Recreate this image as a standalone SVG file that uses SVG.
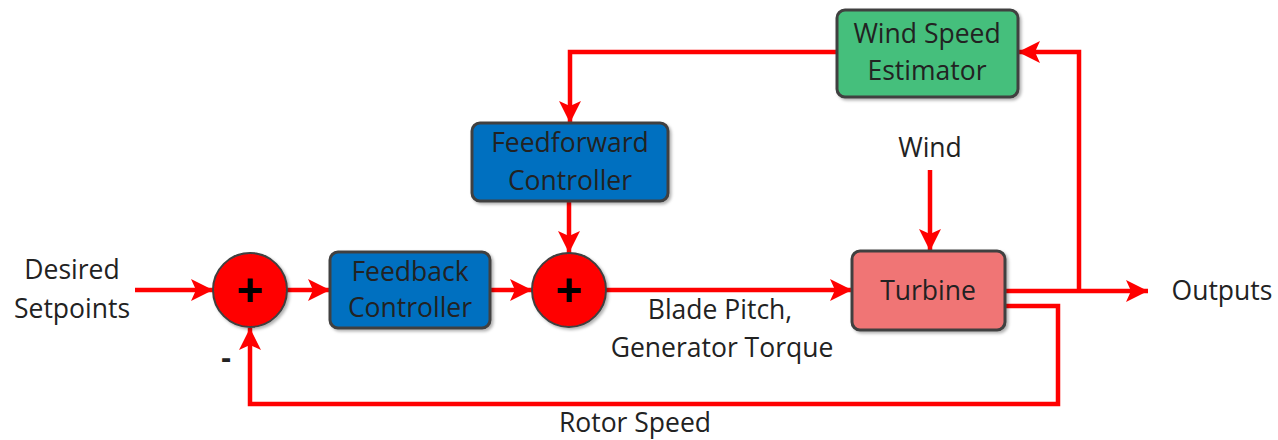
<svg xmlns="http://www.w3.org/2000/svg" width="1278" height="440" viewBox="0 0 1278 440">
<style>
.lbl{font-family:"Open Sans","Liberation Sans",sans-serif;font-size:26.5px;fill:#222;text-anchor:middle}
.box{stroke:#404040;stroke-width:3}
.sum{fill:#ff0000;stroke:#404040;stroke-width:2}
.plus{font-family:"Liberation Sans",sans-serif;font-size:46px;font-weight:bold;fill:#000;text-anchor:middle}
.wire{fill:none;stroke:#ff0000;stroke-width:4.5;stroke-linejoin:miter}
</style>
<defs>
<marker id="ah" markerUnits="userSpaceOnUse" markerWidth="24" markerHeight="24" refX="22" refY="11" orient="auto">
<path d="M0,0 L22,11 L0,22 L5,11 z" fill="#ff0000"/>
</marker>
<filter id="sh" x="-10%" y="-10%" width="130%" height="130%">
<feDropShadow dx="2" dy="2" stdDeviation="1.5" flood-color="#000" flood-opacity="0.3"/>
</filter>
</defs>
<g id="connectors">
<path class="wire" d="M135,290 H213" marker-end="url(#ah)"/>
<path class="wire" d="M287,290 H330" marker-end="url(#ah)"/>
<path class="wire" d="M490,290 H532" marker-end="url(#ah)"/>
<path class="wire" d="M606,290 H852" marker-end="url(#ah)"/>
<path class="wire" d="M569,201 V253" marker-end="url(#ah)"/>
<path class="wire" d="M837,52 H570 V123" marker-end="url(#ah)"/>
<path class="wire" d="M930,170 V251" marker-end="url(#ah)"/>
<path class="wire" d="M1005,291 H1148" marker-end="url(#ah)"/>
<path class="wire" d="M1079,291 V52 H1018" marker-end="url(#ah)"/>
<path class="wire" d="M1005,306 H1058 V404 H250 V328" marker-end="url(#ah)"/>
</g>
<g id="sum1">
<circle class="sum" cx="250" cy="290" r="37" filter="url(#sh)"/>
<text class="plus" x="250" y="306">+</text>
</g>
<g id="feedback">
<rect class="box" x="330" y="252" width="160" height="76" rx="8" fill="#0070c0" filter="url(#sh)"/>
<text class="lbl" x="410" y="281">Feedback</text>
<text class="lbl" x="410" y="317">Controller</text>
</g>
<g id="sum2">
<circle class="sum" cx="569" cy="290" r="37" filter="url(#sh)"/>
<text class="plus" x="569" y="306">+</text>
</g>
<g id="feedforward">
<rect class="box" x="472" y="123" width="196" height="78" rx="8" fill="#0070c0" filter="url(#sh)"/>
<text class="lbl" x="570" y="152">Feedforward</text>
<text class="lbl" x="570" y="190">Controller</text>
</g>
<g id="estimator">
<rect class="box" x="837" y="10" width="181" height="87" rx="8" fill="#45bf7b" filter="url(#sh)"/>
<text class="lbl" x="927" y="43">Wind Speed</text>
<text class="lbl" x="927" y="80">Estimator</text>
</g>
<g id="turbine">
<rect class="box" x="852" y="251" width="153" height="79" rx="8" fill="#f07474" filter="url(#sh)"/>
<text class="lbl" x="928" y="300">Turbine</text>
</g>
<g id="labels">
<text class="lbl" x="72" y="279">Desired</text>
<text class="lbl" x="72" y="318">Setpoints</text>
<text class="lbl" x="930" y="157">Wind</text>
<text class="lbl" x="1222" y="300">Outputs</text>
<text class="lbl" x="720" y="319">Blade Pitch,</text>
<text class="lbl" x="722" y="357">Generator Torque</text>
<text class="lbl" x="635" y="432">Rotor Speed</text>
<text class="lbl" x="226" y="368" style="font-size:30px;font-weight:bold">-</text>
</g>
</svg>
